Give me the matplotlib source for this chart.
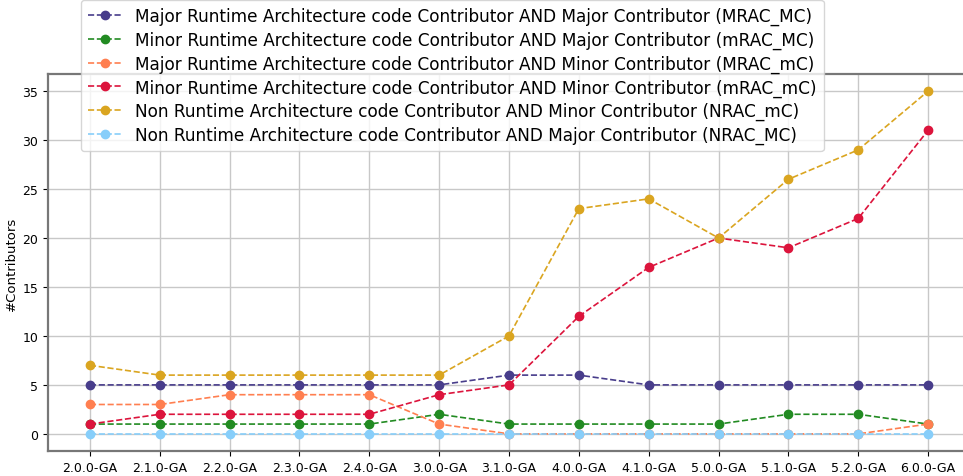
import matplotlib.pyplot as plt

# Release versions on the x axis
versions = ['2.0.0-GA', '2.1.0-GA', '2.2.0-GA', '2.3.0-GA', '2.4.0-GA', '3.0.0-GA', '3.1.0-GA',
            '4.0.0-GA', '4.1.0-GA', '5.0.0-GA', '5.1.0-GA', '5.2.0-GA', '6.0.0-GA']

# Number of contributors per group
mrac_MC = [5, 5, 5, 5, 5, 5, 6, 6, 5, 5, 5, 5, 5]
mrac_mc_minor_major = [1, 1, 1, 1, 1, 2, 1, 1, 1, 1, 2, 2, 1]
MRAC_mC = [3, 3, 4, 4, 4, 1, 0, 0, 0, 0, 0, 0, 1]
mRAC_mC = [1, 2, 2, 2, 2, 4, 5, 12, 17, 20, 19, 22, 31]
NRAC_mC = [7, 6, 6, 6, 6, 6, 10, 23, 24, 20, 26, 29, 35]
NRAC_MC = [0, 0, 0, 0, 0, 0, 0, 0, 0, 0, 0, 0, 0]

series = [
    (mrac_MC, 'darkslateblue', 'Major Runtime Architecture code Contributor AND Major Contributor (MRAC_MC)'),
    (mrac_mc_minor_major, 'forestgreen', 'Minor Runtime Architecture code Contributor AND Major Contributor (mRAC_MC)'),
    (MRAC_mC, 'coral', 'Major Runtime Architecture code Contributor AND Minor Contributor (MRAC_mC)'),
    (mRAC_mC, 'crimson', 'Minor Runtime Architecture code Contributor AND Minor Contributor (mRAC_mC)'),
    (NRAC_mC, 'goldenrod', 'Non Runtime Architecture code Contributor AND Minor Contributor (NRAC_mC)'),
    (NRAC_MC, 'lightskyblue', 'Non Runtime Architecture code Contributor AND Major Contributor (NRAC_MC)'),
]

fig = plt.figure(figsize=(9.63, 4.77), dpi=100)
ax = fig.add_axes([48 / 963, 25 / 477, 922 / 963, 377 / 477])

x = list(range(len(versions)))
for values, color, label in series:
    ax.plot(x, values, '--o', color=color, label=label, linewidth=1.2, markersize=6)

ax.set_xticks(x)
ax.set_xticklabels(versions, fontsize=9)
ax.set_yticks(range(0, 36, 5))
ax.tick_params(axis='y', labelsize=9)
ax.set_xlim(-0.6, 12.6)
ax.set_ylim(-1.75, 36.75)
ax.set_ylabel('#Contributors', fontsize=9.5, labelpad=3)
ax.grid(True, color='#c8c8c8', linewidth=1)
for side in ['left', 'bottom', 'top']:
    ax.spines[side].set_color('#777777')
    ax.spines[side].set_linewidth(1.6)
ax.spines['right'].set_visible(False)

fig.legend(loc='upper left', bbox_to_anchor=(81 / 963, 1 - 1 / 477), fontsize=12.2,
           labelspacing=0.33, borderaxespad=0)

fig.savefig('out.png', dpi=100)
